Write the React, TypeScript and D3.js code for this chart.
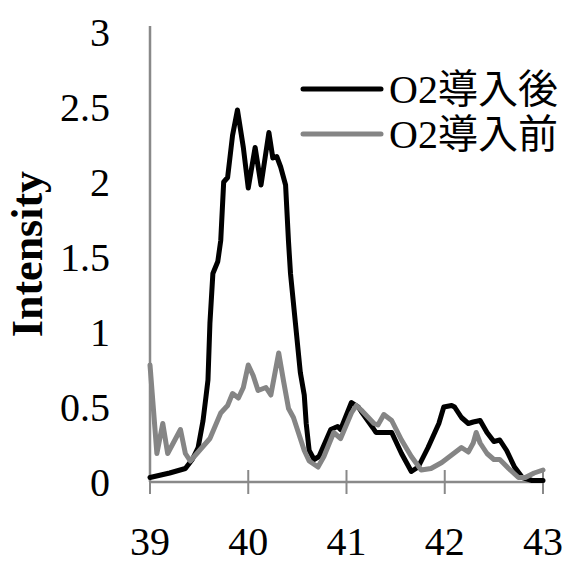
import * as d3 from "d3";

const W = 564;
const H = 564;
const M = { left: 150, right: 21, top: 32, bottom: 82 };

const X_TICKS = [39, 40, 41, 42, 43];
const Y_TICKS = [0, 0.5, 1, 1.5, 2, 2.5, 3];

const SERIES_NAMES = ["O2導入後", "O2導入前"];
const SERIES_COLORS = ["#000000", "#858585"];

// O2導入後 (black)
const afterX = [
  39.0, 39.2, 39.36, 39.43, 39.49, 39.54, 39.57, 39.59, 39.61, 39.64, 39.69, 39.72, 39.75,
  39.79, 39.84, 39.89, 39.95, 40.0, 40.07, 40.13, 40.21, 40.25, 40.29, 40.33, 40.38, 40.41,
  40.43, 40.48, 40.53, 40.57, 40.59, 40.62, 40.67, 40.72, 40.84, 40.91, 40.94, 41.05, 41.12,
  41.15, 41.27, 41.3, 41.46, 41.56, 41.66, 41.73, 41.83, 41.94, 41.99, 42.07, 42.1, 42.17,
  42.24, 42.29, 42.36, 42.43, 42.5, 42.56, 42.63, 42.71, 42.79, 42.89, 43.0,
];
const afterY = [
  0.03, 0.06, 0.09, 0.15, 0.23, 0.41, 0.57, 0.68, 1.06, 1.39, 1.47, 1.61, 2.0, 2.03, 2.31,
  2.48, 2.23, 1.96, 2.23, 1.98, 2.33, 2.16, 2.17, 2.1, 1.98, 1.6, 1.39, 1.06, 0.73, 0.58,
  0.39, 0.21, 0.15, 0.17, 0.35, 0.37, 0.35, 0.53, 0.5, 0.47, 0.36, 0.33, 0.33, 0.19, 0.07,
  0.1, 0.23, 0.39, 0.5, 0.51, 0.5, 0.43, 0.39, 0.4, 0.41, 0.33, 0.27, 0.28, 0.21, 0.1, 0.03,
  0.01, 0.01,
];

// O2導入前 (gray)
const beforeX = [
  39.0, 39.07, 39.13, 39.18, 39.31, 39.36, 39.41, 39.49, 39.61, 39.72, 39.79, 39.84, 39.9,
  39.95, 40.0, 40.05, 40.1, 40.18, 40.23, 40.31, 40.36, 40.41, 40.46, 40.5, 40.57, 40.62,
  40.71, 40.77, 40.87, 40.94, 41.05, 41.1, 41.15, 41.28, 41.32, 41.38, 41.46, 41.56, 41.66,
  41.76, 41.86, 41.97, 42.07, 42.17, 42.24, 42.29, 42.32, 42.36, 42.43, 42.5, 42.56, 42.65,
  42.75, 42.82, 42.91, 43.0,
];
const beforeY = [
  0.78, 0.19, 0.39, 0.19, 0.35, 0.19, 0.14, 0.2, 0.29, 0.46, 0.51, 0.59, 0.56, 0.63, 0.78,
  0.71, 0.61, 0.63, 0.58, 0.86, 0.67, 0.49, 0.43, 0.35, 0.21, 0.14, 0.1, 0.17, 0.33, 0.29,
  0.46, 0.51, 0.48, 0.39, 0.38, 0.45, 0.41, 0.28, 0.17, 0.08, 0.09, 0.13, 0.18, 0.23, 0.2,
  0.26, 0.33, 0.26, 0.19, 0.15, 0.15, 0.09, 0.03, 0.03, 0.06, 0.08,
];

const SERIES = [
  { xs: afterX, ys: afterY },
  { xs: beforeX, ys: beforeY },
];

const AXIS = "#898989";
const FONT = "'Liberation Serif', 'DejaVu Serif', serif";
const CJK_FONT = "'Liberation Serif', 'Noto Sans CJK JP', serif";

export default function App() {
  const x = d3.scaleLinear().domain([39, 43]).range([M.left, W - M.right]);
  const y = d3.scaleLinear().domain([0, 3]).range([H - M.bottom, M.top]);

  const line = d3
    .line<number>()
    .x((d) => x(d))
    .curve(d3.curveLinear);

  return (
    <svg
      width={W}
      height={H}
      viewBox={`0 0 ${W} ${H}`}
      style={{ position: "absolute", left: 0, top: 0, background: "#fff" }}
    >
      {/* y axis line and labels */}
      <line x1={x(39)} x2={x(39)} y1={y(3) - 6} y2={y(0)} stroke={AXIS} strokeWidth={2.5} />
      {Y_TICKS.map((t) => (
        <text
          key={t}
          x={110}
          y={y(t)}
          dy="0.35em"
          textAnchor="end"
          fontFamily={FONT}
          fontSize={40}
          fill="#000"
        >
          {t}
        </text>
      ))}
      <text
        transform={`translate(42,${y(1.52)}) rotate(-90)`}
        textAnchor="middle"
        fontFamily={FONT}
        fontWeight="bold"
        fontSize={44}
      >
        Intensity
      </text>

      {/* x axis */}
      <line x1={x(39)} x2={x(43)} y1={y(0)} y2={y(0)} stroke={AXIS} strokeWidth={2.5} />
      {X_TICKS.map((t) => (
        <g key={t}>
          <line
            x1={x(t)}
            x2={x(t)}
            y1={y(0) - (t === 39 ? 0 : 12)}
            y2={y(0) + 12}
            stroke={AXIS}
            strokeWidth={2}
          />
          <text
            x={x(t)}
            y={541}
            dy="0.35em"
            textAnchor="middle"
            fontFamily={FONT}
            fontSize={40}
          >
            {t}
          </text>
        </g>
      ))}

      {/* series */}
      {SERIES.map((s, i) => (
        <path
          key={i}
          d={line.y((_, j) => y(s.ys[j]))(s.xs) ?? ""}
          fill="none"
          stroke={SERIES_COLORS[i]}
          strokeWidth={5}
          strokeLinejoin="round"
          strokeLinecap="round"
        />
      ))}

      {/* legend */}
      {SERIES_NAMES.map((name, i) => (
        <g key={name} transform={`translate(0,${89 + i * 45})`}>
          <line x1={303} x2={381} y1={0} y2={0} stroke={SERIES_COLORS[i]} strokeWidth={5} strokeLinecap="round" />
          <text x={389} y={0} dy="0.36em" fontFamily={CJK_FONT} fontSize={40}>
            {name}
          </text>
        </g>
      ))}
    </svg>
  );
}
